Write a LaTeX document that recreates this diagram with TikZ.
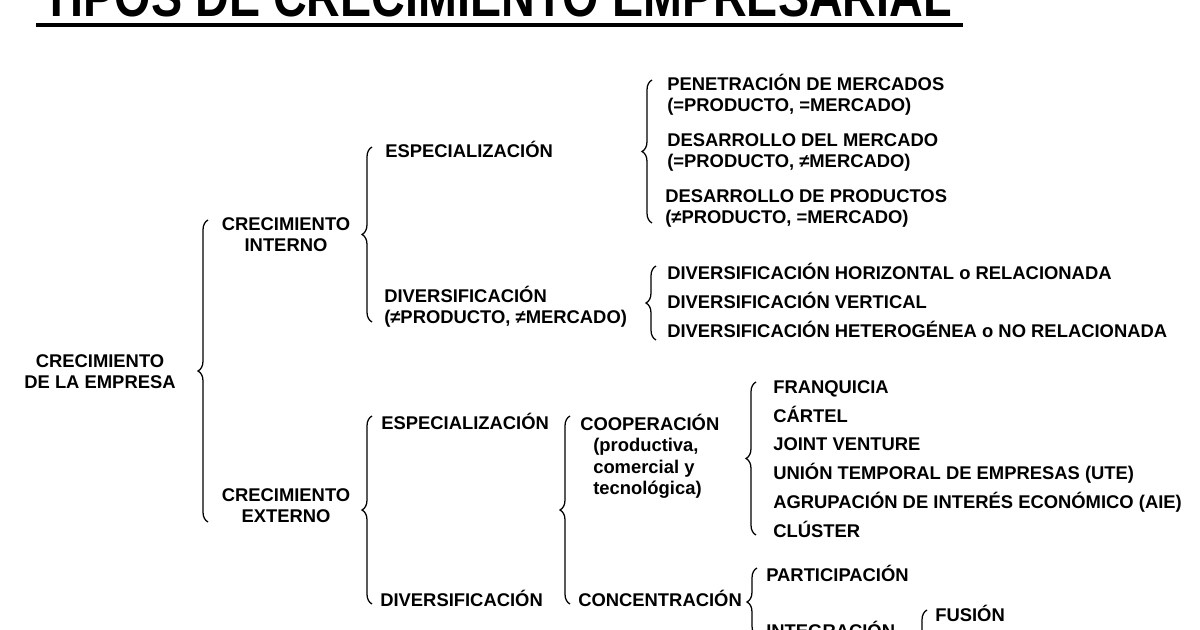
\documentclass[tikz,border=0pt]{standalone}
\usepackage{fontspec}
\setmainfont{Liberation Sans}
\newfontfamily\titlefont[FakeStretch=0.82]{Liberation Sans}
\usetikzlibrary{positioning,decorations.pathreplacing}

\newcommand{\curlyat}[3]{\draw[brc] (#1,#3) -- (#1,#2);}

\begin{document}
\begin{tikzpicture}[x=0.75pt, y=-0.75pt,
    every node/.style={inner sep=0pt, font=\bfseries\fontsize{13.8}{15.75}\selectfont},
    item/.style={anchor=base west},
    pair/.style={anchor=west, align=left},
    stack/.style={align=center},
    brc/.style={decorate, decoration={brace, amplitude=7.5pt}, line width=0.95pt}]
  \useasboundingbox (0,0) rectangle (1200,630);
  \fill[white] (0,0) rectangle (1200,630);
  \clip (0,0) rectangle (1200,630);

  \node[anchor=base west, font=\titlefont\bfseries\fontsize{42.7}{42.7}\selectfont]
    (title) at (42,17) {TIPOS DE CRECIMIENTO EMPRESARIAL};
  \draw[line width=3pt] (36,25) -- (963,25);

  \node[stack] (root) at (100,372) {CRECIMIENTO\\DE LA EMPRESA};
  \node[stack] (int) at (286,235) {CRECIMIENTO\\INTERNO};
  \node[stack] (ext) at (286,506) {CRECIMIENTO\\EXTERNO};

  % crecimiento interno
  \node[item] (espA) at (385,157.5) {ESPECIALIZACIÓN};
  \node[pair] (divA) at (384,306.5) {DIVERSIFICACIÓN\\(≠PRODUCTO, ≠MERCADO)};
  \node[pair] (pen) at (667,94.5) {PENETRACIÓN DE MERCADOS\\(=PRODUCTO, =MERCADO)};
  \node[pair] (desM) at (667,152.5) {DESARROLLO DEL MERCADO\\(=PRODUCTO, ≠MERCADO)};
  \node[pair] (desP) at (665,208.5) {DESARROLLO DE PRODUCTOS\\(≠PRODUCTO, =MERCADO)};
  \node[item] (dHor) at (667,279.5) {DIVERSIFICACIÓN HORIZONTAL o RELACIONADA};
  \node[item] (dVer) at (667,308.5) {DIVERSIFICACIÓN VERTICAL};
  \node[item] (dHet) at (667,337.5) {DIVERSIFICACIÓN HETEROGÉNEA o NO RELACIONADA};

  % crecimiento externo
  \node[item] (espB) at (381,429.5) {ESPECIALIZACIÓN};
  \node[item] (divB) at (380,606.5) {DIVERSIFICACIÓN};
  \node[item] (coop) at (580,430.5) {COOPERACIÓN};
  \node[pair, font=\bfseries\fontsize{13.8}{16.1}\selectfont] (coopNote) at (593,468.5)
    {(productiva,\\comercial y\\tecnológica)};
  \node[item] (conc) at (578,606.5) {CONCENTRACIÓN};
  \node[item] (fran) at (773,393.5) {FRANQUICIA};
  \node[item] (cart) at (773,422.5) {CÁRTEL};
  \node[item] (joint) at (773,450.5) {JOINT VENTURE};
  \node[item] (ute) at (773,479.5) {UNIÓN TEMPORAL DE EMPRESAS (UTE)};
  \node[item] (aie) at (773,508.5) {AGRUPACIÓN DE INTERÉS ECONÓMICO (AIE)};
  \node[item] (clus) at (773,537.5) {CLÚSTER};
  \node[item] (part) at (766,581.5) {PARTICIPACIÓN};
  \node[item] (integ) at (766,637.5) {INTEGRACIÓN};
  \node[item] (fus) at (935,621.5) {FUSIÓN};

  \curlyat{208}{220}{522}
  \curlyat{372}{147}{322}
  \curlyat{652}{80}{223}
  \curlyat{656}{266}{340}
  \curlyat{372}{416}{604}
  \curlyat{570}{416}{604}
  \curlyat{756}{382}{535}
  \curlyat{757}{568}{636}
  \curlyat{927}{610}{680}
\end{tikzpicture}
\end{document}
